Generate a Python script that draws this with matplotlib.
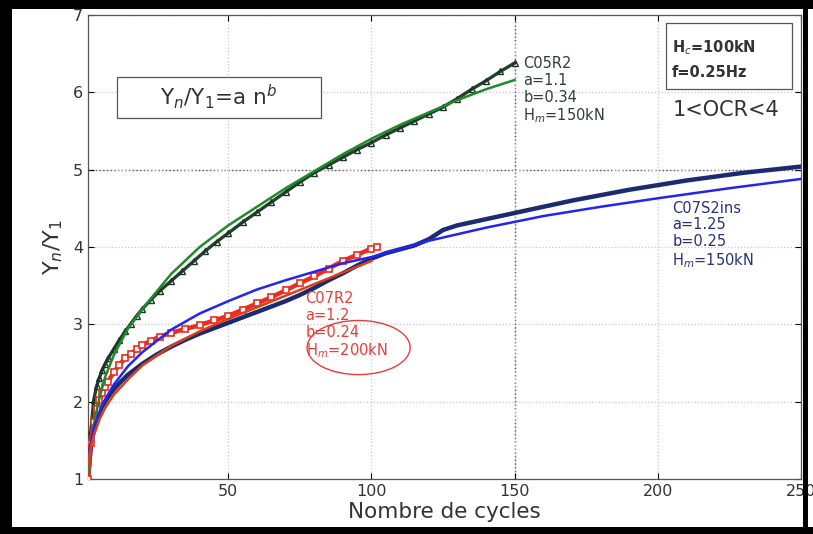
"""
Yn/Y1 against number of cycles, three tests with their power-law fits.
"""

import matplotlib
matplotlib.use("Agg")
from matplotlib import pyplot as plt
from matplotlib.patches import Ellipse, Rectangle

# C05R2 : measured points and fit (a=1.1, b=0.34)
c05_n = [1, 2, 3, 4, 5, 6, 7, 8, 10, 12, 14, 16, 18, 20, 23, 26, 30, 34, 38, 42,
         46, 50, 55, 60, 65, 70, 75, 80, 85, 90, 95, 100, 105, 110, 115, 120,
         125, 130, 135, 140, 145, 150]
c05_y = [1.0, 1.62, 2.02, 2.2, 2.31, 2.41, 2.49, 2.56, 2.68, 2.8, 2.91, 3.01,
         3.11, 3.2, 3.32, 3.43, 3.56, 3.69, 3.82, 3.95, 4.07, 4.18, 4.32, 4.45,
         4.58, 4.71, 4.84, 4.96, 5.06, 5.16, 5.26, 5.35, 5.45, 5.54, 5.63, 5.72,
         5.81, 5.92, 6.04, 6.15, 6.27, 6.38]
c05_fit_n = [1, 2, 3, 5, 7, 10, 15, 20, 30, 40, 50, 60, 70, 80, 90, 100, 110,
             120, 130, 140, 150]
c05_fit_y = [1.1, 1.45, 1.7, 2.05, 2.32, 2.6, 2.95, 3.2, 3.65, 4.0, 4.28, 4.52,
             4.76, 4.98, 5.2, 5.4, 5.58, 5.74, 5.9, 6.04, 6.16]

# C07S2ins : measured points and fit (a=1.25, b=0.25)
c07s_n = [1, 2, 3, 4, 5, 6, 8, 10, 12, 15, 20, 25, 30, 35, 40, 45, 50, 55, 60,
          65, 70, 75, 80, 85, 90, 95, 100, 105, 110, 115, 120, 125, 130, 140,
          150, 160, 170, 180, 190, 200, 210, 220, 230, 240, 250]
c07s_y = [1.0, 1.42, 1.63, 1.76, 1.86, 1.94, 2.06, 2.16, 2.24, 2.35, 2.49, 2.61,
          2.71, 2.8, 2.88, 2.95, 3.02, 3.09, 3.16, 3.23, 3.3, 3.38, 3.47, 3.57,
          3.66, 3.76, 3.85, 3.92, 3.97, 4.02, 4.1, 4.22, 4.28, 4.36, 4.44, 4.52,
          4.6, 4.67, 4.74, 4.8, 4.86, 4.91, 4.96, 5.0, 5.04]
c07s_fit_n = [1, 2, 3, 5, 7, 10, 15, 20, 30, 40, 50, 60, 70, 80, 90, 100, 120,
              140, 160, 180, 200, 225, 250]
c07s_fit_y = [1.25, 1.49, 1.65, 1.87, 2.03, 2.22, 2.46, 2.64, 2.93, 3.14, 3.3,
              3.45, 3.57, 3.68, 3.79, 3.87, 4.08, 4.25, 4.4, 4.52, 4.63, 4.76,
              4.88]

# C07R2 : measured points and fit (a=1.2, b=0.24)
c07r_n = [1, 2, 3, 4, 5, 6, 7, 8, 10, 12, 14, 16, 18, 20, 23, 26, 30, 35, 40,
          45, 50, 55, 60, 65, 70, 75, 80, 85, 90, 95, 100, 102]
c07r_y = [1.0, 1.47, 1.74, 1.9, 2.02, 2.11, 2.19, 2.26, 2.38, 2.48, 2.56, 2.62,
          2.68, 2.73, 2.79, 2.84, 2.89, 2.94, 2.99, 3.05, 3.11, 3.19, 3.27, 3.35,
          3.44, 3.53, 3.62, 3.72, 3.82, 3.9, 3.98, 4.0]
c07r_fit_n = [1, 2, 3, 5, 7, 10, 15, 20, 30, 40, 50, 60, 70, 80, 90, 100]
c07r_fit_y = [1.2, 1.42, 1.56, 1.77, 1.92, 2.09, 2.29, 2.47, 2.72, 2.91, 3.07,
              3.22, 3.37, 3.52, 3.67, 3.82]

x_ticks = [50, 100, 150, 200, 250]
y_ticks = [1, 2, 3, 4, 5, 6, 7]

W, H = 813, 534
fig = plt.figure(figsize=(W / 100, H / 100), dpi=100)
fig.patch.set_facecolor("white")
ax = fig.add_axes([88 / W, (H - 479) / H, 713 / W, 464 / H])

# grid (matlab style dotted)
ax.grid(True, linestyle=":", color="#c8c8c8", linewidth=0.9)
ax.axvline(150, linestyle=":", color="#444444", linewidth=1.0, zorder=1)
ax.axhline(5, linestyle=":", color="#444444", linewidth=1.0, zorder=1)

# measured data
ax.plot(c05_n, c05_y, color="#22402c", linewidth=2.4, zorder=3)
ax.plot(c05_n, c05_y, linestyle="none", marker="^", markersize=5,
        markerfacecolor="none", markeredgecolor="#1e3326", markeredgewidth=1.0,
        zorder=3)
ax.plot(c07s_n, c07s_y, color="#1c2a72", linewidth=3.2, zorder=3)
ax.plot(c07r_n, c07r_y, color="#f02a1e", linewidth=3.2, zorder=4)
ax.plot(c07r_n, c07r_y, linestyle="none", marker="s", markersize=5,
        markerfacecolor="white", markeredgecolor="#f02a1e", markeredgewidth=1.2,
        zorder=4)

# fits
ax.plot(c05_fit_n, c05_fit_y, color="#1f8a2a", linewidth=1.8, zorder=5)
ax.plot(c07s_fit_n, c07s_fit_y, color="#2424f0", linewidth=1.8, zorder=5)
ax.plot(c07r_fit_n, c07r_fit_y, color="#d8401a", linewidth=1.8, zorder=5)

ax.set_xlim(1, 250)
ax.set_ylim(1, 7)
ax.set_xticks(x_ticks)
ax.set_yticks(y_ticks)
ax.tick_params(direction="in", top=True, right=True, labelsize=11.5,
               labelcolor="#333333", length=4, width=0.8)
for s in ax.spines.values():
    s.set_color("#555555")
    s.set_linewidth(0.9)

ax.set_xlabel("Nombre de cycles", fontsize=15.5, color="#333333", labelpad=2)
ax.set_ylabel(r"Y$_n$/Y$_1$", fontsize=16, color="#333333", labelpad=6)

# annotations
ax.text(153, 6.47, "C05R2\na=1.1\nb=0.34\nH$_m$=150kN", fontsize=10.5,
        color="#2e3e36", va="top", ha="left", linespacing=1.15)
ax.text(205, 4.6, "C07S2ins\na=1.25\nb=0.25\nH$_m$=150kN", fontsize=10.5,
        color="#27327a", va="top", ha="left", linespacing=1.15)
ax.text(77, 3.43, "C07R2\na=1.2\nb=0.24\nH$_m$=200kN", fontsize=10.5,
        color="#ee3a3a", va="top", ha="left", linespacing=1.15)
ax.add_patch(Ellipse((95.5, 2.7), 36, 0.7, fill=False, edgecolor="#ee3a3a",
                     linewidth=1.0, zorder=6))

# formula box
ax.add_patch(Rectangle((11, 5.67), 71.4, 0.53, facecolor="white",
                       edgecolor="#555555", linewidth=0.9, zorder=6))
ax.text(46.5, 5.94, r"Y$_n$/Y$_1$=a n$^b$", fontsize=15.5, color="#333333",
        ha="center", va="center", zorder=7)

# test conditions box
ax.add_patch(Rectangle((203, 6.04), 44, 0.86, fill=False, edgecolor="#555555",
                       linewidth=0.9, zorder=6))
ax.text(205, 6.43, "H$_c$=100kN\nf=0.25Hz", fontsize=10.5, fontweight="bold",
        color="#333333", ha="left", va="center", linespacing=1.6)
ax.text(224, 5.77, "1<OCR<4", fontsize=15, color="#333333",
        ha="center", va="center")

# black frame around the picture
frame = dict(facecolor="black", edgecolor="none", zorder=10,
             transform=fig.transFigure, figure=fig)
fig.patches.extend([
    Rectangle((0, 0), 12 / W, 1, **frame),
    Rectangle((0, 1 - 9 / H), 1, 9 / H, **frame),
    Rectangle((0, 0), 1, 7 / H, **frame),
    Rectangle((803 / W, 0), 5 / W, 1, **frame),
])

plt.savefig("out.png", dpi=100)
plt.close()
